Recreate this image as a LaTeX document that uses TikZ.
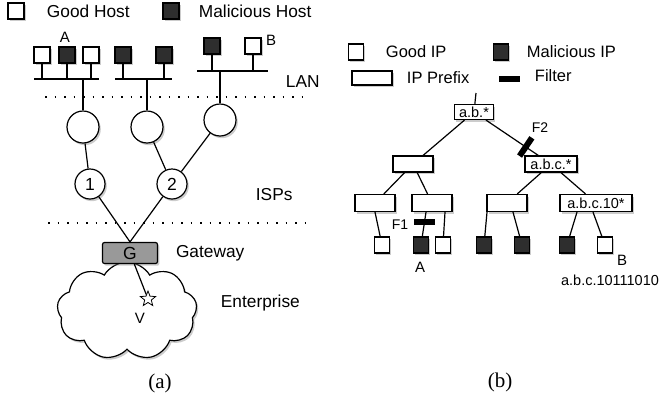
\documentclass[tikz,border=0pt]{standalone}
\usepackage{fontspec}
\setmainfont{Liberation Sans}
\newfontfamily\capfont{Liberation Serif}
\usetikzlibrary{positioning,shapes.geometric,shapes.symbols,shadows}

\begin{document}
\begin{tikzpicture}[x=1pt,y=-1pt,
      line width=1.2pt,
      shadowed/.style={
         drop shadow={shadow xshift=1.8pt,shadow yshift=-2.2pt,opacity=0.4}},
      host_good/.style={
         draw=black,
         fill=white,
         inner sep=0pt,
         minimum size=16pt,
         shadowed},
      host_bad/.style={
         host_good,
         fill=black!82},
      isp_node/.style={
         circle,
         draw=black,
         fill=white,
         inner sep=0pt,
         minimum size=32pt,
         shadowed,
         font=\fontsize{17.5}{20}\selectfont},
      prefix_box/.style={
         draw=black,
         fill=white,
         inner sep=0pt,
         minimum width=40pt,
         minimum height=16pt,
         shadowed,
         font=\fontsize{14.5}{16}\selectfont},
      filter_bar/.style={
         fill=black,
         inner sep=0pt,
         minimum width=21pt,
         minimum height=5.5pt},
      big_txt/.style={
         anchor=west,
         font=\fontsize{17.3}{20}\selectfont},
      mid_txt/.style={
         anchor=west,
         font=\fontsize{16.5}{19}\selectfont},
      small_txt/.style={
         font=\fontsize{15}{17}\selectfont},
      cap_txt/.style={
         font=\capfont\fontsize{21}{24}\selectfont},
      dot_line/.style={
         line width=1.8pt,
         dash pattern=on 1.6pt off 7.9pt}
]
      \useasboundingbox (0,0) rectangle (663,402);

      %% ---------- (a) ----------
      % legend
      \node[host_good] (lg1) at (16,11) {};
      \node[big_txt] at (43,11) {Good Host};
      \node[host_bad] (lg2) at (171,11) {};
      \node[big_txt] at (195,11) {Malicious Host};

      % hosts
      \node[host_good] (h1) at (42,55) {};
      \node[host_bad]  (h2) at (67,55) {};
      \node[host_good] (h3) at (91,55) {};
      \node[host_bad]  (h4) at (123,55) {};
      \node[host_bad]  (h5) at (164,55) {};
      \node[host_bad]  (h6) at (212,46) {};
      \node[host_good] (h7) at (253,46) {};
      \node[small_txt] at (65,37) {A};
      \node[small_txt] at (271,40) {B};

      % LAN buses
      \coordinate (b1) at (83,79);  \coordinate (b1w) at (34,79);  \coordinate (b1e) at (99,79);
      \coordinate (b2) at (147,79); \coordinate (b2w) at (115,79); \coordinate (b2e) at (172,79);
      \coordinate (b3) at (220,71); \coordinate (b3w) at (197,71); \coordinate (b3e) at (268,71);
      \foreach \w/\e in {b1w/b1e, b2w/b2e, b3w/b3e}
        \draw (\w) -- (\e);
      \foreach \h/\b in {h1/b1, h2/b1, h3/b1, h4/b2, h5/b2, h6/b3, h7/b3}
        \draw (\h) -- (\h |- \b);
      \node[big_txt] at (282,82) {LAN};
      \draw[dot_line] (45,97) -- (308,97);

      % routers and ISPs
      \node[isp_node] (c1) at (83,127) {};
      \node[isp_node] (c2) at (147,127) {};
      \node[isp_node] (c3) at (220,120) {};
      \node[isp_node,minimum size=30pt] (i1) at (90,184) {1};
      \node[isp_node,minimum size=30pt] (i2) at (172,184) {2};
      \node[big_txt] at (252,195) {ISPs};
      \draw[dot_line] (48,223) -- (310,223);

      % enterprise
      \node[cloud,cloud puffs=9,cloud puff arc=120,aspect=1.4,draw=black,fill=white,
            minimum width=140pt,minimum height=98pt,shadowed] (ent) at (127,311) {};
      \node[star,star points=5,star point ratio=2.3,draw=black,fill=white,
            line width=0.8pt,inner sep=0pt,minimum size=16pt] (v) at (148,299) {};
      \node[small_txt] at (140,318) {V};
      \node[draw=black,fill=black!40,rounded corners=2pt,inner sep=0pt,
            minimum width=55pt,minimum height=21pt,shadowed,
            font=\fontsize{17.5}{20}\selectfont] (G) at (130,253) {G};
      \node[big_txt,right=14pt of G] {Gateway};
      \node[big_txt] at (217,303) {Enterprise};

      \foreach \i/\j in {b1/c1, b2/c2, b3/c3, c1/i1, c2/i2, c3/i2}
        \draw (\i) -- (\j);
      \foreach \i in {i1, i2}
        \draw (\i) -- (G.north);
      \draw (G) -- (v);

      \node[cap_txt] at (160,383) {(a)};

      %% ---------- (b) ----------
      % legend
      \node[host_good,minimum width=15pt] (lg3) at (356,52) {};
      \node[mid_txt] at (382,52) {Good IP};
      \node[host_bad,minimum width=15pt] (lg4) at (501,52) {};
      \node[mid_txt] at (523,52) {Malicious IP};
      \node[prefix_box,minimum height=14pt] (lg5) at (372,78) {};
      \node[mid_txt] at (403,78) {IP Prefix};
      \node[filter_bar] (lg6) at (509,79) {};
      \node[mid_txt] at (531,76) {Filter};

      % prefix tree
      \coordinate (top) at (476,93);
      \node[prefix_box,minimum width=39pt,minimum height=15pt] (p0) at (474,112) {a.b.*};
      \node[prefix_box] (p1) at (413,164) {};
      \node[prefix_box,minimum width=52pt] (p2) at (551,164) {a.b.c.*};
      \node[prefix_box,minimum height=17pt] (p3) at (375,203) {};
      \node[prefix_box,minimum height=17pt] (p4) at (432,203) {};
      \node[prefix_box,minimum height=17pt] (p5) at (507,203) {};
      \node[prefix_box,minimum width=72pt,minimum height=17pt] (p6) at (596,203) {a.b.c.10*};

      \node[host_good,minimum width=15pt] (l1) at (382,245) {};
      \node[host_bad,minimum width=15pt]  (l2) at (421,245) {};
      \node[host_good,minimum width=15pt] (l3) at (443,245) {};
      \node[host_bad,minimum width=15pt]  (l4) at (484,245) {};
      \node[host_bad,minimum width=15pt]  (l5) at (522,245) {};
      \node[host_bad,minimum width=15pt]  (l6) at (567,245) {};
      \node[host_good,minimum width=15pt] (l7) at (605,245) {};

      \draw (top) -- (p0);
      \draw (p0) -- (p1);
      \draw (p0) -- node[filter_bar,sloped,pos=0.76,minimum width=6pt,minimum height=22pt] (f2) {} (p2);
      \foreach \i/\j in {p1/p3, p1/p4, p2/p5, p2/p6}
        \draw (\i) -- (\j);
      \foreach \p/\dx/\l in {p3/0/l1, p4/13/l3, p5/-20/l4, p5/6/l5, p6/-19/l6, p6/-3/l7}
        \draw ([xshift=\dx pt]\p.south) -- (\l);
      \draw ([xshift=-6pt]p4.south) -- node[filter_bar,pos=0.4] (f1) {} (l2);

      \node[small_txt,font=\fontsize{14}{16}\selectfont] at (540,128) {F2};
      \node[small_txt,font=\fontsize{14}{16}\selectfont] at (400,225) {F1};
      \node[small_txt] at (420,267) {A};
      \node[small_txt] at (622,260) {B};
      \node[small_txt,font=\fontsize{14.5}{16}\selectfont] at (610,280) {a.b.c.10111010};

      \node[cap_txt] at (500,382) {(b)};
\end{tikzpicture}
\end{document}
